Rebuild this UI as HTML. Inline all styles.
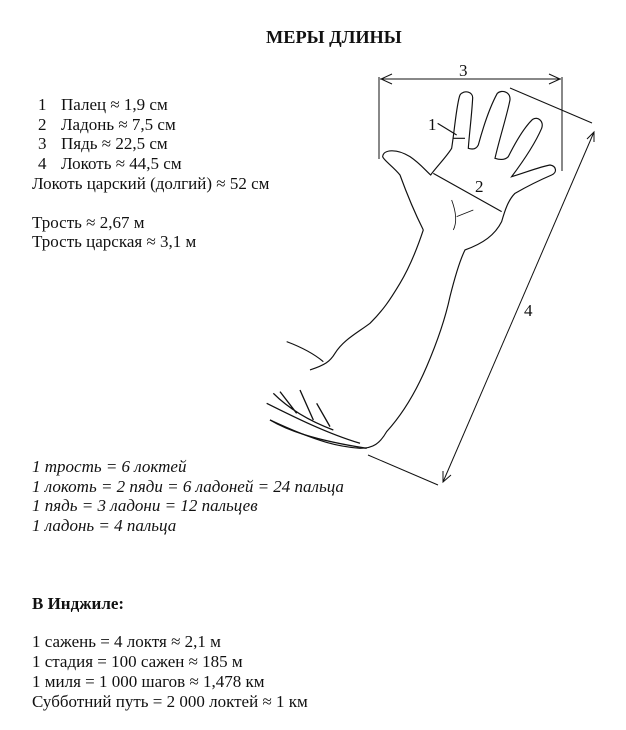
<!DOCTYPE html>
<html><head><meta charset="utf-8"><style>
body{margin:0;width:626px;height:730px;background:#fff;position:relative;overflow:hidden;font-family:"Liberation Serif",serif;color:#111}
.t{position:absolute;font-size:17px;line-height:20px;white-space:nowrap}
.i{font-style:italic}
.b{font-weight:bold}
</style></head><body>
<div class="t b" style="left:266px;top:27px;font-size:18.3px">МЕРЫ ДЛИНЫ</div>
<div class="t" style="left:38px;top:95px">1</div><div class="t" style="left:61px;top:95px">Палец ≈ 1,9 см</div>
<div class="t" style="left:38px;top:115px">2</div><div class="t" style="left:61px;top:115px">Ладонь ≈ 7,5 см</div>
<div class="t" style="left:38px;top:134px">3</div><div class="t" style="left:61px;top:134px">Пядь ≈ 22,5 см</div>
<div class="t" style="left:38px;top:154px">4</div><div class="t" style="left:61px;top:154px">Локоть ≈ 44,5 см</div>
<div class="t" style="left:32px;top:174px">Локоть царский (долгий) ≈ 52 см</div>
<div class="t" style="left:32px;top:213px">Трость ≈ 2,67 м</div>
<div class="t" style="left:32px;top:232px">Трость царская ≈ 3,1 м</div>
<div class="t i" style="left:32px;top:457px">1 трость = 6 локтей</div>
<div class="t i" style="left:32px;top:477px">1 локоть = 2 пяди = 6 ладоней = 24 пальца</div>
<div class="t i" style="left:32px;top:496px">1 пядь = 3 ладони = 12 пальцев</div>
<div class="t i" style="left:32px;top:516px">1 ладонь = 4 пальца</div>
<div class="t b" style="left:32px;top:594px">В Инджиле:</div>
<div class="t" style="left:32px;top:632px">1 сажень = 4 локтя ≈ 2,1 м</div>
<div class="t" style="left:32px;top:652px">1 стадия = 100 сажен ≈ 185 м</div>
<div class="t" style="left:32px;top:672px">1 миля = 1 000 шагов ≈ 1,478 км</div>
<div class="t" style="left:32px;top:692px">Субботний путь = 2 000 локтей ≈ 1 км</div>
<svg width="626" height="730" style="position:absolute;left:0;top:0" xmlns="http://www.w3.org/2000/svg">
<g stroke="#111" fill="none" stroke-width="1">
<line x1="379" y1="77" x2="379" y2="159"/>
<line x1="562" y1="77" x2="562" y2="171"/>
<line x1="380" y1="79" x2="561" y2="79"/>
<polyline points="392,74 381,79 392,84"/>
<polyline points="549,74 560,79 549,84"/>
<line x1="510" y1="88" x2="592" y2="123"/>
<line x1="368" y1="455" x2="438" y2="485"/>
<line x1="594" y1="132" x2="443" y2="482"/>
<polyline points="587,139 594,132 594,142"/>
<polyline points="443,471 443,482 451,475"/>
<g transform="translate(260,60) scale(0.3333)" stroke-width="3.5">
<path d="M490,510 C460,450 440,400 420,345 C400,320 370,300 368,290 C370,268 410,265 450,290 C480,310 500,335 512,345 C530,320 560,290 575,265 C585,200 590,130 600,105 C612,88 640,95 638,115 C635,170 628,220 625,265 C640,270 650,265 655,255 C670,200 690,140 712,100 C725,88 752,95 750,120 C740,170 720,230 705,295 C720,300 735,300 745,290 C770,240 795,200 818,178 C835,168 852,185 845,205 C830,240 800,290 755,350 C790,340 840,320 870,315 C890,318 892,338 875,345 C840,360 800,380 765,400 C745,420 735,450 725,485 C705,525 670,550 615,570 C600,600 585,650 570,710 C555,780 530,850 500,920 C470,990 430,1060 380,1115 C360,1150 340,1165 300,1165 C240,1160 180,1150 30,1080"/>
<path d="M490,510 C470,570 450,620 420,670 C390,720 370,750 330,790 C290,820 250,840 225,880 C210,905 195,915 150,930"/>
<path d="M520,340 L725,455"/>
<path d="M580,235 L615,235 M533,190 L590,225"/>
<path d="M80,845 C120,860 160,880 190,905"/>
<path d="M30,1080 C80,1110 160,1140 320,1165 M20,1030 C100,1070 200,1120 300,1150 M40,1000 C80,1040 140,1080 220,1110 M60,995 L110,1060 M120,990 L160,1080 M170,1030 L210,1100" stroke-width="4"/>
<path d="M575,420 C590,460 590,490 580,510 M590,470 L640,450" stroke-width="2.5"/>
</g>
</g>
<g font-family="Liberation Serif,serif" font-size="17" fill="#111">
<text x="459" y="76">3</text>
<text x="428" y="130">1</text>
<text x="475" y="192">2</text>
<text x="524" y="316">4</text>
</g>
</svg>
</body></html>
